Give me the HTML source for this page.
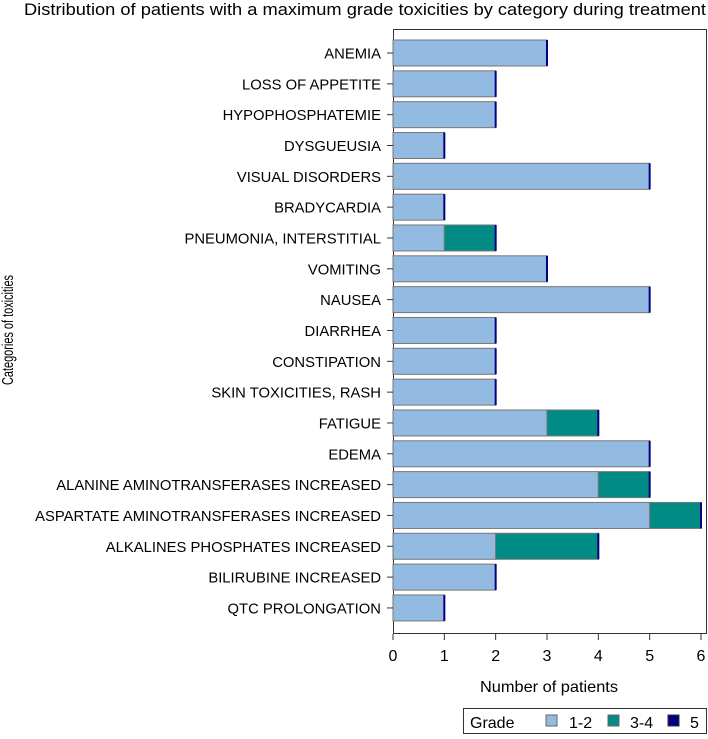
<!DOCTYPE html>
<html><head><meta charset="utf-8"><style>
body{margin:0;background:#fff;font-family:"Liberation Sans",Arial,sans-serif;}
</style></head><body>
<svg id="chart" width="708" height="734" xmlns="http://www.w3.org/2000/svg" font-family="Liberation Sans, Arial, sans-serif">
<text x="24" y="15" font-size="17" textLength="682" lengthAdjust="spacingAndGlyphs" fill="#000">Distribution of patients with a maximum grade toxicities by category during treatment</text>
<rect x="393.5" y="29.5" width="313" height="604" fill="none" stroke="#333" stroke-width="1"/>
<g id="bars"></g>
<g id="yaxis"></g>
<g id="xaxis"></g>
<text x="480" y="692" font-size="16" textLength="138" lengthAdjust="spacingAndGlyphs">Number of patients</text>
<text transform="translate(13,385) rotate(-90)" font-size="16" textLength="110" lengthAdjust="spacingAndGlyphs">Categories of toxicities</text>
<g>
<rect x="463.5" y="708.5" width="243" height="25" fill="none" stroke="#333"/>
<text x="470" y="728" font-size="16">Grade</text>
<rect x="546" y="715" width="11" height="11" fill="#93bbe2" stroke="#666"/>
<text x="569" y="728" font-size="16">1-2</text>
<rect x="608" y="715" width="11" height="11" fill="#008b85" stroke="#666"/>
<text x="630" y="728" font-size="16">3-4</text>
<rect x="668" y="715" width="11" height="11" fill="#000080" stroke="#333"/>
<text x="690" y="728" font-size="16">5</text>
</g>
</svg>
<script>
const categories=["ANEMIA","LOSS OF APPETITE","HYPOPHOSPHATEMIE","DYSGUEUSIA","VISUAL DISORDERS","BRADYCARDIA","PNEUMONIA, INTERSTITIAL","VOMITING","NAUSEA","DIARRHEA","CONSTIPATION","SKIN TOXICITIES, RASH","FATIGUE","EDEMA","ALANINE AMINOTRANSFERASES INCREASED","ASPARTATE AMINOTRANSFERASES INCREASED","ALKALINES PHOSPHATES INCREASED","BILIRUBINE INCREASED","QTC PROLONGATION"];
const grade12=[3,2,2,1,5,1,1,3,5,2,2,2,3,5,4,5,2,2,1];
const grade34=[0,0,0,0,0,0,1,0,0,0,0,0,1,0,1,1,2,0,0];
const grade5=[0,0,0,0,0,0,0,0,0,0,0,0,0,0,0,0,0,0,0];
const xTicks=[0,1,2,3,4,5,6];
const NS="http://www.w3.org/2000/svg";
const x=v=>393+v*51.33;
const y=i=>53+i*30.83;
const bh=26;
function mk(t,a,p){const e=document.createElementNS(NS,t);for(const k in a)e.setAttribute(k,a[k]);p.appendChild(e);return e;}
const gb=document.getElementById('bars'),gy=document.getElementById('yaxis'),gx=document.getElementById('xaxis');
categories.forEach((c,i)=>{
  const cy=y(i);
  const t=mk('text',{x:381,y:cy+5.5,'font-size':14.8,'text-anchor':'end'},gy);
  t.textContent=c;
  
  
  mk('line',{x1:387,x2:393,y1:cy,y2:cy,stroke:'#333'},gy);
  let s=0;
  const r1=mk('rect',{x:x(0),y:cy-bh/2,width:x(grade12[i])-x(0),height:bh,fill:'#93bbe2',stroke:'#777','stroke-width':1},gb);
  
  
  s+=grade12[i];
  if(grade34[i]>0){
    const r2=mk('rect',{x:x(s),y:cy-bh/2,width:x(s+grade34[i])-x(s),height:bh,fill:'#008b85',stroke:'#777','stroke-width':1},gb);
    
    
  }
  s+=grade34[i];
  const r3=mk('rect',{x:x(s)-1,y:cy-bh/2,width:Math.max(2,x(s+grade5[i])-x(s)+1),height:bh,fill:'#000080'},gb);
  
  
});
xTicks.forEach(v=>{
  mk('line',{x1:x(v),x2:x(v),y1:634,y2:640,stroke:'#333'},gx);
  const t=mk('text',{x:x(v),y:661,'font-size':16,'text-anchor':'middle'},gx);
  t.textContent=v;
  
  
});
</script>
</body></html>
